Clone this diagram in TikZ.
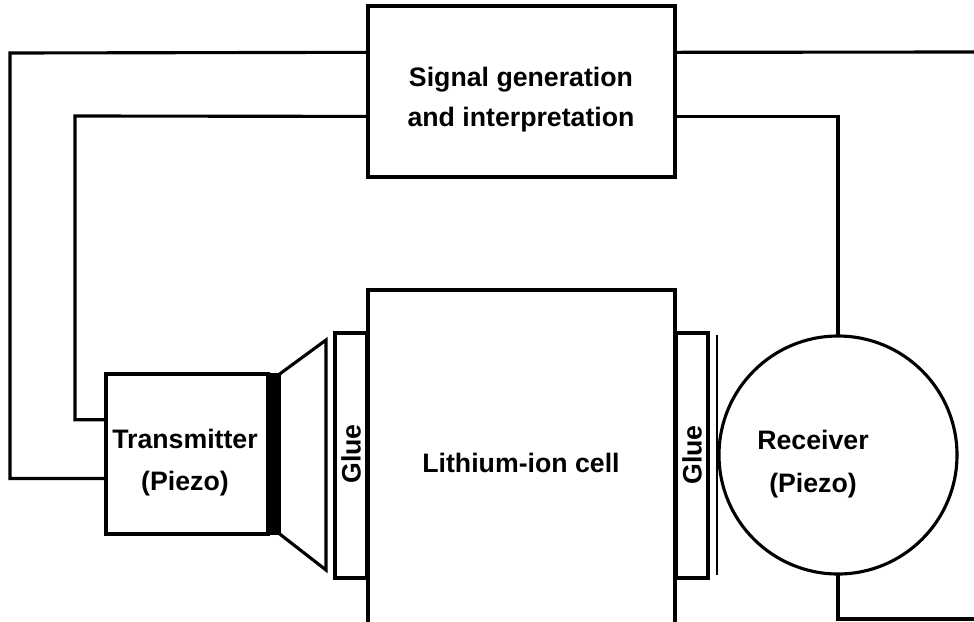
\documentclass[tikz,border=0pt]{standalone}
\usepackage{fontspec}
\setmainfont{Liberation Sans}
\usepackage{tikz}
\usetikzlibrary{calc}
\tikzset{
    box/.style={draw, line width=1.1mm, inner sep=0mm, align=center},
    wire/.style={line width=1.1mm, line cap=rect, line join=miter}
}
\begin{document}
\begin{tikzpicture}[x=1pt, y=-1pt, line width=1.1mm, every node/.style={font=\bfseries\fontsize{26.7}{40}\selectfont, text depth=0}]
        \useasboundingbox (0,0) rectangle (974,621);
        \node[box, minimum width=307pt, minimum height=171pt] (sg) at (521.5,91.5) {};
        \node[align=center] (sgl) at (521,97) {Signal generation\\and interpretation};
        \node[box, minimum width=307pt, minimum height=350pt] (li) at (521.5,465) {};
        \node (lil) at (521,463) {Lithium-ion cell};
        \node[box, minimum width=162pt, minimum height=160pt] (tr) at (187,454) {};
        \node[draw, fill=black, line width=0.3mm, minimum width=13pt, minimum height=161pt, inner sep=0mm] (ba) at (274,454) {};
        \node[font=\bfseries\fontsize{26.7}{42}\selectfont, align=center] (trl) at (185,460) {Transmitter\\(Piezo)};
        \node[box, rotate=90, minimum width=245pt, minimum height=32pt] (gl) at (351,455.5) {};
        \node[rotate=90] (gll) at (351,454) {Glue};
        \node[box, rotate=90, minimum width=245pt, minimum height=32pt] (gr) at (692,455.5) {};
        \node[rotate=90] (grl) at (692,455) {Glue};
        \node[box, circle, minimum size=238pt] (re) at (838,455) {};
        \node[font=\bfseries\fontsize{26.7}{43}\selectfont, align=center] (rel) at (813,461) {Receiver\\(Piezo)};

        % funnel
        \coordinate (fa) at (326,340);
        \coordinate (fb) at (326,570);
        \draw[wire] (ba.north east) -- (fa) -- (fb) -- (ba.south east);
        % thin layer
        \coordinate (ta) at (717,335);
        \coordinate (tb) at (717,575);
        \draw[line width=0.9mm, line cap=butt] (ta) -- (tb);

        \coordinate (w1) at (10,53);
        \coordinate (w2) at (75,116);
        \coordinate (w3) at (974,52);
        \coordinate (w4) at (974,619);
        \draw[wire] ($(sg.north west)!0.275!(sg.south west)$) -- (w1) |- ($(tr.north west)!0.65!(tr.south west)$);
        \draw[wire] ($(sg.north west)!0.643!(sg.south west)$) -- (w2) |- ($(tr.north west)!0.29!(tr.south west)$);
        \draw[wire] ($(sg.north east)!0.275!(sg.south east)$) -- (w3);
        \draw[wire] ($(sg.north east)!0.643!(sg.south east)$) -| (re.north);
        \draw[wire] (re.south) |- (w4);
\end{tikzpicture}
\end{document}
